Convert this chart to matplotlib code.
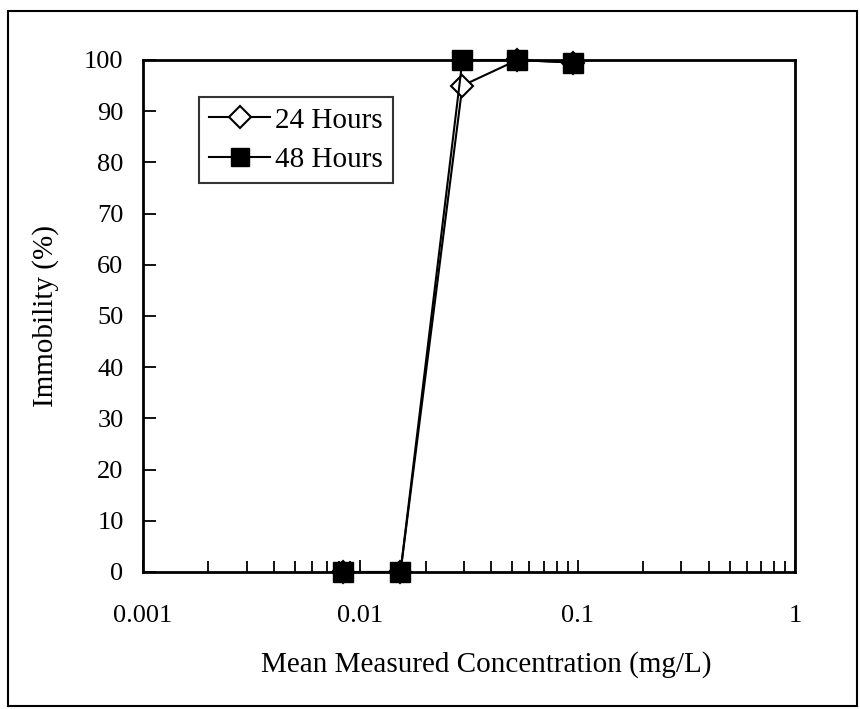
import matplotlib
matplotlib.use("Agg")
import matplotlib.pyplot as plt
from matplotlib.patches import Rectangle
from matplotlib.ticker import LogLocator, FixedLocator, FixedFormatter, NullFormatter

conc = [0.0083, 0.0153, 0.0295, 0.0528, 0.0955]
imm_24h = [0, 0, 95, 100, 99.5]
imm_48h = [0, 0, 100, 100, 99.5]
x_ticks = [0.001, 0.01, 0.1, 1]
x_tick_labels = ["0.001", "0.01", "0.1", "1"]
y_ticks = [0, 10, 20, 30, 40, 50, 60, 70, 80, 90, 100]

plt.rcParams['font.family'] = ['Liberation Serif', 'DejaVu Serif']

fig = plt.figure(figsize=(8.6, 7.09), dpi=100)
ax = fig.add_axes([143/860, 1 - 572/709, (795-143)/860, (572-60)/709])

ax.plot(conc, imm_24h, color='black', lw=1.5, marker='D', ms=11, mfc='white', mec='black', mew=1.5,
        label='24 Hours', zorder=3, clip_on=False)
ax.plot(conc, imm_48h, color='black', lw=1.5, marker='s', ms=14, mfc='black', mec='black',
        label='48 Hours', zorder=4, clip_on=False)

ax.set_xscale('log')
ax.set_xlim(0.001, 1)
ax.set_ylim(0, 100)
ax.xaxis.set_major_locator(FixedLocator(x_ticks))
ax.xaxis.set_major_formatter(FixedFormatter(x_tick_labels))
ax.xaxis.set_minor_locator(LogLocator(base=10, subs=range(2, 10)))
ax.xaxis.set_minor_formatter(NullFormatter())
ax.set_yticks(y_ticks)

ax.tick_params(axis='both', which='both', direction='in', labelsize=19, width=1.3, colors='black')
ax.tick_params(axis='x', which='major', length=9, pad=24)
ax.tick_params(axis='x', which='minor', length=8)
ax.tick_params(axis='y', which='major', length=9, pad=14)
for s in ax.spines.values():
    s.set_linewidth(2)

ax.set_xlabel('Mean Measured Concentration (mg/L)', fontsize=21, labelpad=16)
ax.xaxis.set_label_coords(0.527, -0.155)
ax.set_ylabel('Immobility (%)', fontsize=21, labelpad=18)

leg = ax.legend(loc='upper left', bbox_to_anchor=(56/652, 1 - 37/512), fontsize=21, frameon=True,
                fancybox=False, edgecolor='black', handlelength=2.1, handletextpad=0.15,
                borderpad=0.35, labelspacing=0.45, borderaxespad=0)
leg.get_frame().set_linewidth(1.5)
leg.legend_handles[1].set_markersize(13)
leg.legend_handles[0].set_markersize(11)

fig.patches.append(Rectangle((8/860, 3/709), 849/860, 695/709, transform=fig.transFigure,
                             fill=False, edgecolor='black', lw=1.5))

fig.savefig('out.png', dpi=100)
